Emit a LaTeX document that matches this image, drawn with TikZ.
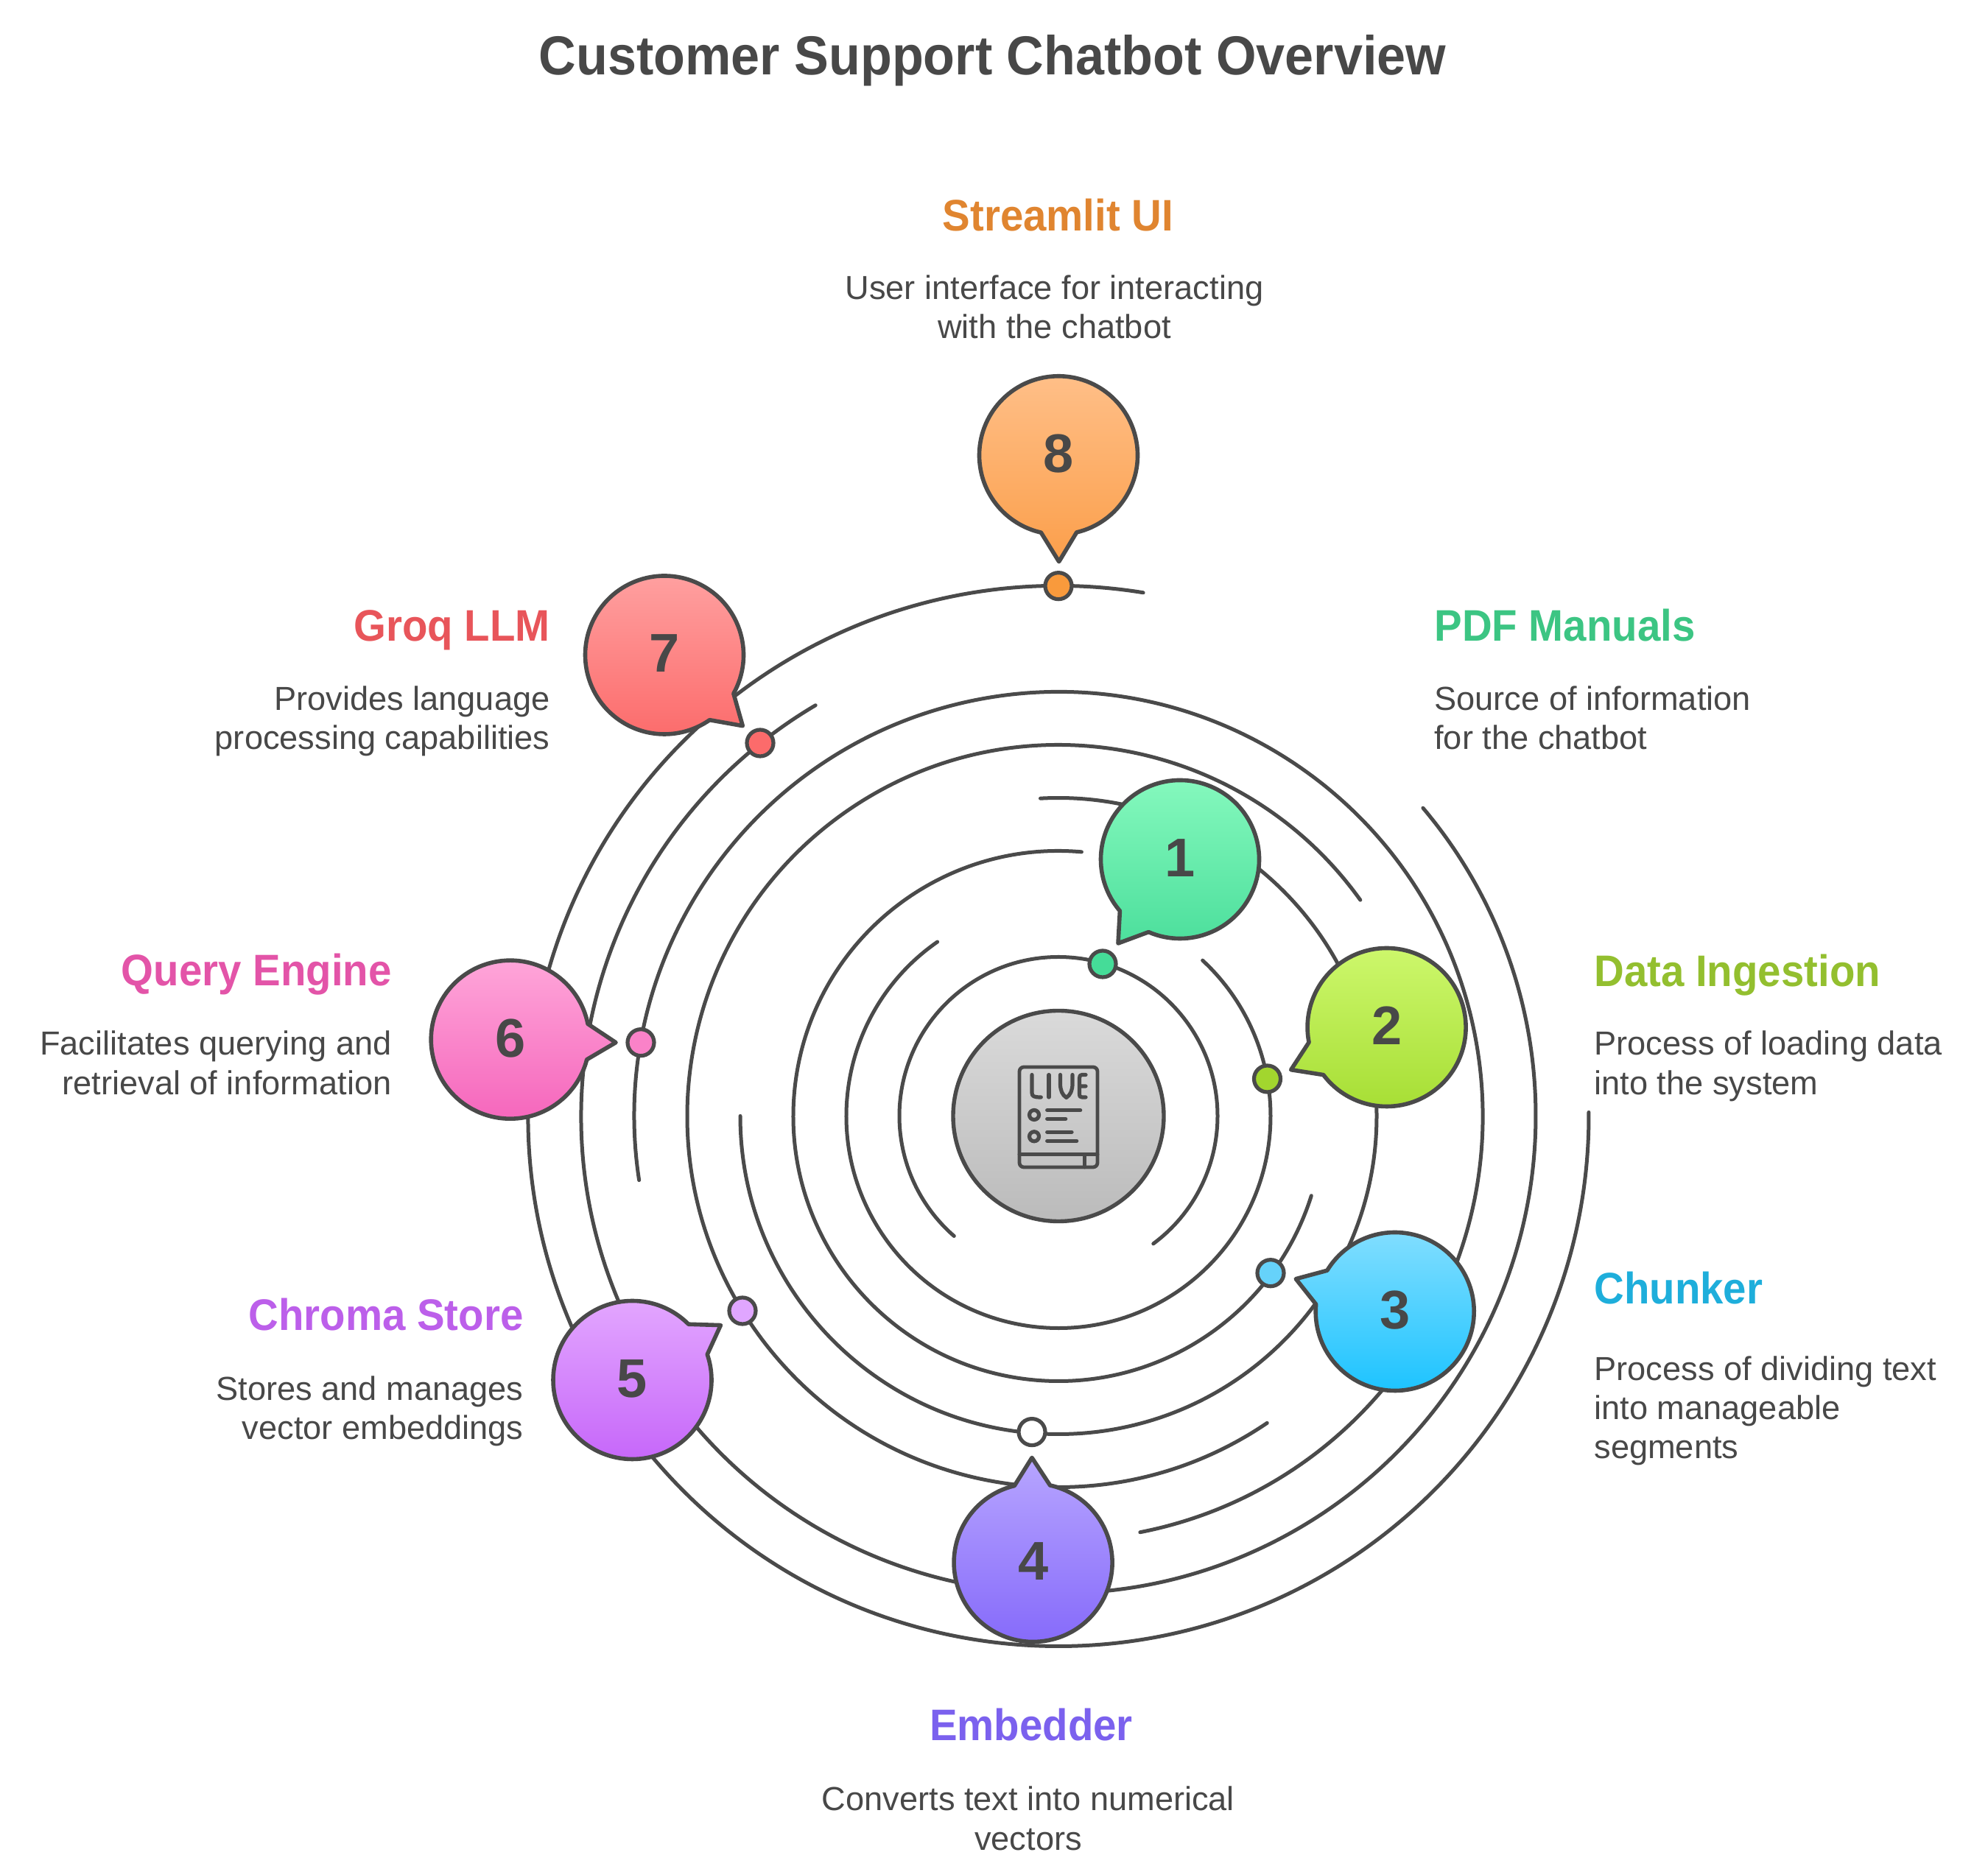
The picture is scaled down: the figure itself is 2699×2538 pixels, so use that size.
\documentclass[tikz,border=0pt]{standalone}
\usepackage{fontspec}
\setmainfont{Liberation Sans}
\newfontfamily\headf{Liberation Sans}[FakeStretch=0.94]
\definecolor{ink}{HTML}{4A4A4A}
\definecolor{txt}{HTML}{484848}
\definecolor{hubT}{HTML}{DADADA}\definecolor{hubB}{HTML}{BBBBBB}
\definecolor{aT}{HTML}{88FABF}\definecolor{aB}{HTML}{4ADE9B}\definecolor{aD}{HTML}{45DC98}\definecolor{aH}{HTML}{3CC583}
\definecolor{bT}{HTML}{CFF96F}\definecolor{bB}{HTML}{A5DD32}\definecolor{bD}{HTML}{A2D62E}\definecolor{bH}{HTML}{93BF2F}
\definecolor{cT}{HTML}{82DEFF}\definecolor{cB}{HTML}{1BC3FF}\definecolor{cD}{HTML}{66D2FA}\definecolor{cH}{HTML}{1EAEDB}
\definecolor{dT}{HTML}{B7A5FF}\definecolor{dB}{HTML}{8468FA}\definecolor{dD}{HTML}{FFFFFF}\definecolor{dH}{HTML}{7B61EE}
\definecolor{eT}{HTML}{E4A9FF}\definecolor{eB}{HTML}{C564F9}\definecolor{eD}{HTML}{E0A6FF}\definecolor{eH}{HTML}{BC5FEA}
\definecolor{fT}{HTML}{FFA8DA}\definecolor{fB}{HTML}{F564BB}\definecolor{fD}{HTML}{FA82C8}\definecolor{fH}{HTML}{E354A8}
\definecolor{gT}{HTML}{FFA3A3}\definecolor{gB}{HTML}{FC6B6B}\definecolor{gD}{HTML}{FC6B6B}\definecolor{gH}{HTML}{E8555A}
\definecolor{hT}{HTML}{FFC08A}\definecolor{hB}{HTML}{FB9F4B}\definecolor{hD}{HTML}{F99A3C}\definecolor{hH}{HTML}{E08530}
\tikzset{
  ring/.style={draw=ink,line width=2.5pt,line cap=round},
  bubble/.style={draw=ink,line width=2.8pt,line join=round},
  dotn/.style={circle,draw=ink,line width=2.6pt,minimum size=18pt,inner sep=0pt},
  numn/.style={inner sep=0pt,text=txt,font=\fontsize{37}{37}\selectfont\bfseries},
  heading/.style={inner sep=0pt,font=\headf\fontsize{30}{36}\selectfont\bfseries},
  desc/.style={inner sep=0pt,text=txt,font=\fontsize{22.6}{26.65}\selectfont},
  icon/.style={draw=ink,line width=2.6pt,line cap=round,line join=round},
}
\newcommand{\orbit}[3]{\draw[ring] ([shift={(#2:#1)}]1437,1022.5) arc[start angle=#2,end angle=#3,radius=#1];}
\newcommand{\speech}[8]{%
  \pgfmathsetmacro\tang{atan2(#4-#2,#3-#1)}%
  \pgfmathsetmacro\tbeg{\tang+13}%
  \pgfmathsetmacro\tend{\tang+347}%
  \path[bubble,top color=#5,bottom color=#6] ([shift={(\tbeg:107.5)}]#1,#2) arc[start angle=\tbeg,end angle=\tend,radius=107.5] -- (#3,#4) -- cycle;
  \node[numn,yshift=1pt] (#8) at (#1,#2) {#7};
}
\begin{document}
\begin{tikzpicture}[x=0.5pt,y=0.5pt]
\useasboundingbox (0,0) rectangle (2699,2538);
\fill[white] (0,0) rectangle (2699,2538);

\node[anchor=base,inner sep=0pt,text=txt,font=\headf\fontsize{37.3}{40}\selectfont\bfseries] (title) at (1347.5,2436.3) {Customer Support Chatbot Overview};

% orbits
\orbit{216}{-53.4}{229}
\orbit{288}{124.8}{407.2}
\orbit{360}{85}{342.5}
\orbit{432}{180}{453.25}
\orbit{504}{35.6}{304.2}
\orbit{576}{-78.9}{188.7}
\orbit{648}{120.6}{400.2}
\orbit{720}{80.8}{360.4}

% centre
\node[circle,draw=ink,line width=2.7pt,minimum size=143pt,inner sep=0pt,top color=hubT,bottom color=hubB] (hub) at (1437,1022.5) {};
\begin{scope}[shift={(0,2538)},y=-0.5pt]
  \draw[icon,line width=2.4pt,rounded corners=3pt] (1384,1449) rectangle (1490,1585);
  \draw[icon,line width=2.4pt] (1384,1567.7) -- (1490,1567.7) (1472.7,1567.7) -- (1472.7,1585);
  \draw[icon] (1401,1459.5) -- (1401,1484) .. controls (1401,1489) and (1404,1490) .. (1413.3,1490);
  \draw[icon] (1424,1459.5) -- (1424,1490);
  \draw[icon] (1439.5,1459.5) -- (1439.5,1472) .. controls (1439.5,1480) and (1442,1487) .. (1447.7,1490.5) .. controls (1453.5,1487) and (1456,1480) .. (1456,1472) -- (1456,1459.5);
  \draw[icon] (1474,1459.5) -- (1469,1459.5) .. controls (1466.5,1459.5) and (1465.5,1461) .. (1465.5,1464) -- (1465.5,1485) .. controls (1465.5,1489) and (1466.5,1490) .. (1469,1490) -- (1474,1490) (1465.5,1475) -- (1474,1475);
  \draw[icon] (1404,1514) circle[radius=6.5] (1404,1543.3) circle[radius=6.5];
  \draw[icon] (1421.7,1507.7) -- (1466.7,1507.7) (1421.7,1519.3) -- (1446.7,1519.3) (1421.7,1537.3) -- (1455,1537.3) (1421.7,1549.3) -- (1461.7,1549.3);
\end{scope}

% bubbles: centre, tip, colours, number, name
\speech{1602}{1371}{1518}{1257}{aT}{aB}{1}{n1}
\speech{1882.6}{1143}{1752.7}{1085.3}{bT}{bB}{2}{n2}
\speech{1893.7}{757}{1759.3}{801.3}{cT}{cB}{3}{n3}
\speech{1402.6}{416}{1401}{558.5}{dT}{dB}{4}{n4}
\speech{858.5}{664}{978.4}{738.4}{eT}{eB}{5}{n5}
\speech{692.7}{1126.3}{836}{1122.3}{fT}{fB}{6}{n6}
\speech{902}{1648.5}{1008.3}{1552.3}{gT}{gB}{7}{n7}
\speech{1437}{1919.7}{1437.7}{1775.3}{hT}{hB}{8}{n8}

% dots
\node[dotn,fill=aD] (d1) at (1497,1229) {};
\node[dotn,fill=bD] (d2) at (1720.5,1073) {};
\node[dotn,fill=cD] (d3) at (1725,809.3) {};
\node[dotn,fill=dD] (d4) at (1401,593.4) {};
\node[dotn,fill=eD] (d5) at (1008,758) {};
\node[dotn,fill=fD] (d6) at (870,1122.3) {};
\node[dotn,fill=gD] (d7) at (1032,1529) {};
\node[dotn,fill=hD] (d8) at (1437,1742.3) {};

% labels: a multi-line node's base anchor lies on its last line
\node[heading,anchor=base west,text=aH] (h1) at (1947,1667) {PDF Manuals};
\node[desc,anchor=base west,align=left] (t1) at (1947,1520.4) {Source of information\\for the chatbot};
\node[heading,anchor=base west,text=bH] (h2) at (2164,1198.4) {Data Ingestion};
\node[desc,anchor=base west,align=left] (t2) at (2164,1051.8) {Process of loading data\\into the system};
\node[heading,anchor=base west,text=cH] (h3) at (2164,767.5) {Chunker};
\node[desc,anchor=base west,align=left] (t3) at (2164,557) {Process of dividing text\\into manageable\\segments};
\node[heading,anchor=base,text=dH] (h4) at (1400,174) {Embedder};
\node[desc,anchor=base,align=center] (t4) at (1396,25.8) {Converts text into numerical\\vectors};
\node[heading,anchor=base east,text=eH] (h5) at (711,731.5) {Chroma Store};
\node[desc,anchor=base east,align=right] (t5) at (711,583.5) {Stores and manages\\vector embeddings};
\node[heading,anchor=base east,text=fH] (h6) at (532,1199.5) {Query Engine};
\node[desc,anchor=base east,align=right] (t6) at (532,1051.8) {Facilitates querying and\\retrieval of information};
\node[heading,anchor=base east,text=gH] (h7) at (747,1667) {Groq LLM};
\node[desc,anchor=base east,align=right] (t7) at (747,1520.4) {Provides language\\processing capabilities};
\node[heading,anchor=base,text=hH] (h8) at (1436.5,2224.7) {Streamlit UI};
\node[desc,anchor=base,align=center] (t8) at (1431.5,2078) {User interface for interacting\\with the chatbot};
\end{tikzpicture}
\end{document}
